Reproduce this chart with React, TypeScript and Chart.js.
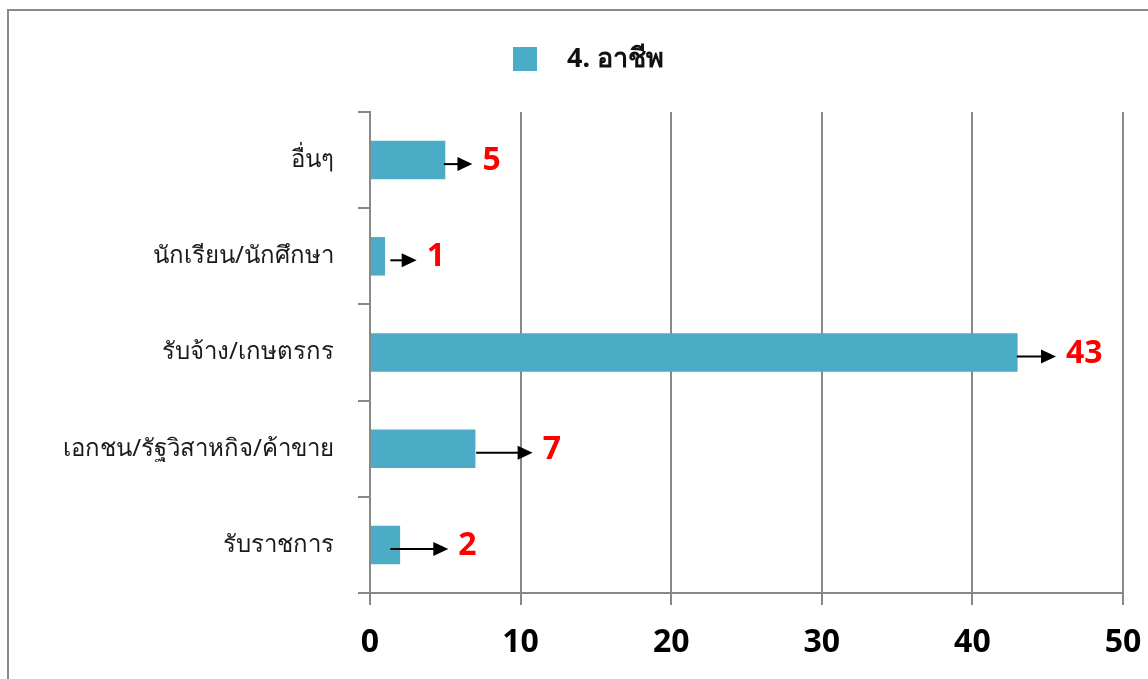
import React, { useEffect, useRef } from "react";
import { Chart, registerables } from "chart.js";

Chart.register(...registerables);

const categories = [
  "อื่นๆ",
  "นักเรียน/นักศึกษา",
  "รับจ้าง/เกษตรกร",
  "เอกชน/รัฐวิสาหกิจ/ค้าขาย",
  "รับราชการ",
];
const counts = [5, 1, 43, 7, 2];
const seriesLabel = "4. อาชีพ";
const xTicks = [0, 10, 20, 30, 40, 50];
// annotation arrows, in axis units
const arrowFrom = [4.9, 1.35, 42.95, 7.05, 1.35];
const arrowTo = [6.8, 3.1, 45.55, 10.8, 5.2];

const BAR_COLOR = "#4BACC6";
const GRID = "#888888";

const decorPlugin = {
  id: "decor",
  beforeDraw(chart: any) {
    const ctx = chart.ctx;
    ctx.save();
    ctx.fillStyle = "#ffffff";
    ctx.fillRect(0, 0, chart.width, chart.height);
    ctx.strokeStyle = "#8a8a8a";
    ctx.lineWidth = 2;
    ctx.beginPath();
    ctx.moveTo(8, chart.height + 5);
    ctx.lineTo(8, 10);
    ctx.lineTo(chart.width + 5, 10);
    ctx.stroke();
    // legend
    ctx.fillStyle = BAR_COLOR;
    ctx.fillRect(513, 47, 24, 24);
    ctx.fillStyle = "#111111";
    ctx.font = "bold 27px 'Noto Sans', sans-serif";
    ctx.textBaseline = "middle";
    ctx.textAlign = "left";
    ctx.fillText(seriesLabel, 567, 59);
    ctx.restore();
  },
  afterDatasetsDraw(chart: any) {
    const ctx = chart.ctx;
    const xs = chart.scales.x;
    const meta = chart.getDatasetMeta(0);
    ctx.save();
    meta.data.forEach((bar: any, i: number) => {
      const y = bar.y + 4;
      const x0 = xs.getPixelForValue(arrowFrom[i]);
      const x1 = xs.getPixelForValue(arrowTo[i]);
      const head = 15;
      ctx.strokeStyle = "#000";
      ctx.fillStyle = "#000";
      ctx.lineWidth = 2;
      ctx.beginPath();
      ctx.moveTo(x0, y);
      ctx.lineTo(x1 - head + 1, y);
      ctx.stroke();
      ctx.beginPath();
      ctx.moveTo(x1, y);
      ctx.lineTo(x1 - head, y - 7);
      ctx.lineTo(x1 - head, y + 7);
      ctx.closePath();
      ctx.fill();
      ctx.fillStyle = "#FF0000";
      ctx.font = "bold 32px 'Noto Sans', sans-serif";
      ctx.textAlign = "left";
      ctx.textBaseline = "middle";
      ctx.fillText(String(counts[i]), x1 + 10, bar.y + 1);
    });
    ctx.restore();
  },
};

export default function App() {
  const ref = useRef<HTMLCanvasElement | null>(null);
  useEffect(() => {
    if (!ref.current) return;
    const chart = new Chart(ref.current, {
      type: "bar",
      data: {
        labels: categories,
        datasets: [
          {
            label: seriesLabel,
            data: counts,
            backgroundColor: BAR_COLOR,
            barPercentage: 0.4,
            categoryPercentage: 1,
          },
        ],
      },
      options: {
        indexAxis: "y",
        responsive: false,
        animation: false,
        layout: { padding: { left: 0, right: 25, top: 112, bottom: 0 } },
        plugins: {
          legend: { display: false },
          tooltip: { enabled: false },
        },
        scales: {
          x: {
            min: 0,
            max: 50,
            afterBuildTicks: (s: any) => {
              s.ticks = xTicks.map((v) => ({ value: v }));
            },
            afterFit: (s: any) => {
              s.height = 679 - 593;
              s.paddingLeft = 0;
              s.paddingRight = 0;
            },
            grid: { color: GRID, lineWidth: 2, tickLength: 12 },
            border: { color: GRID, width: 2 },
            ticks: {
              color: "#000",
              padding: 19,
              font: { family: "'Noto Sans', sans-serif", size: 32, weight: "bold" },
            },
          },
          y: {
            afterFit: (s: any) => {
              s.width = 370;
              s.paddingTop = 0;
              s.paddingBottom = 0;
            },
            grid: {
              color: GRID,
              lineWidth: 2,
              tickLength: 12,
              drawOnChartArea: false,
              offset: true,
            },
            border: { color: GRID, width: 2 },
            ticks: {
              color: "#1a1a1a",
              padding: 24,
              font: { family: "'Noto Sans', sans-serif", size: 24 },
            },
          },
        },
      },
      plugins: [decorPlugin],
    });
    return () => chart.destroy();
  }, []);
  return (
    <div style={{ position: "fixed", left: 0, top: 0, width: 1148, height: 679 }}>
      <canvas ref={ref} width={1148} height={679} style={{ width: 1148, height: 679, display: "block" }} />
    </div>
  );
}
